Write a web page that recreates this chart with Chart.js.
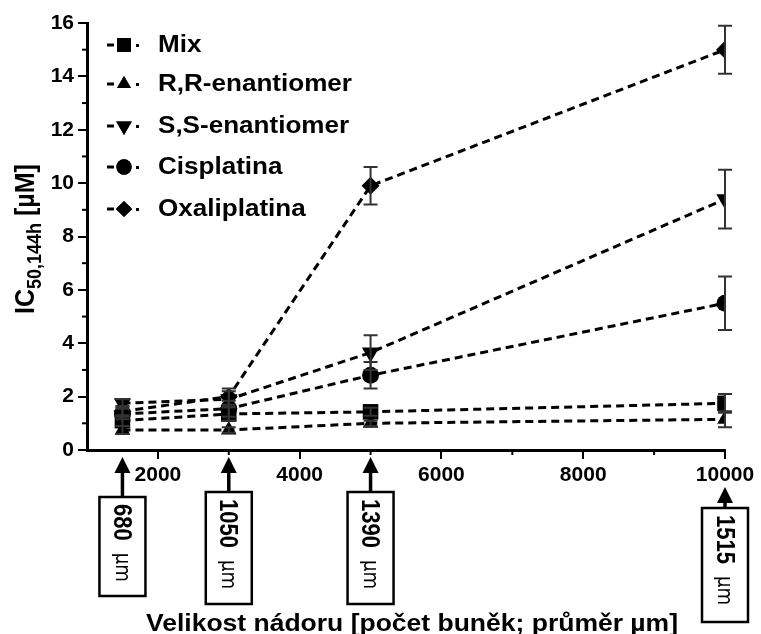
<!DOCTYPE html>
<html>
<head>
<meta charset="utf-8">
<script src="https://cdn.jsdelivr.net/npm/chart.js@4.4.0/dist/chart.umd.min.js"></script>
<style>
  html, body { margin: 0; padding: 0; background: #fff; }
</style>
</head>
<body>
<canvas id="myChart" width="761" height="634"></canvas>
<script>
// tumour size (cells) and matching diameters
const sizes = [1500, 3000, 5000, 10000]
const diameters = ['680', '1050', '1390', '1515']

// IC50 values [uM] with error (+/-)
const mix = [1.1, 1.35, 1.43, 1.75]
const mixErr = [0.2, 0.25, 0.15, 0.35]
const rr = [0.75, 0.75, 1.0, 1.15]
const rrErr = [0.15, 0.1, 0.1, 0.3]
const ss = [1.75, 1.9, 3.65, 9.4]
const ssErr = [0.15, 0.3, 0.65, 1.1]
const cis = [1.35, 1.55, 2.8, 5.5]
const cisErr = [0.2, 0.3, 0.5, 1.0]
const oxa = [1.45, 2.0, 9.9, 15.0]
const oxaErr = [0.2, 0.3, 0.7, 0.9]

const xTicks = [2000, 4000, 6000, 8000, 10000]
const yTicks = [0, 2, 4, 6, 8, 10, 12, 14, 16]

function series (label, values, errors, pointStyle, radius, rotation) {
  return {
    label,
    data: sizes.map((x, i) => ({ x, y: values[i] })),
    errors,
    pointStyle,
    pointRadius: radius,
    pointHoverRadius: radius,
    pointRotation: rotation || 0,
    borderColor: '#000',
    backgroundColor: '#000',
    pointBorderWidth: 0,
    borderWidth: 3,
    borderDash: [8, 5],
    fill: false,
    tension: 0,
  }
}

const datasets = [
  series('Mix', mix, mixErr, 'rect', 11),
  series('R,R-enantiomer', rr, rrErr, 'triangle', 9),
  series('S,S-enantiomer', ss, ssErr, 'triangle', 10, 180),
  series('Cisplatina', cis, cisErr, 'circle', 8.5),
  series('Oxaliplatina', oxa, oxaErr, 'rectRot', 9),
]

// error bars, drawn from the y scale
const errorBars = {
  id: 'errorBars',
  afterDatasetsDraw (chart) {
    const { ctx, scales: { x, y } } = chart
    ctx.save()
    ctx.strokeStyle = '#333'
    ctx.lineWidth = 2
    chart.data.datasets.forEach(ds => {
      ds.data.forEach((p, i) => {
        const e = ds.errors[i]
        const px = x.getPixelForValue(p.x)
        const top = y.getPixelForValue(p.y + e)
        const bot = y.getPixelForValue(p.y - e)
        ctx.beginPath()
        ctx.moveTo(px, top); ctx.lineTo(px, bot)
        ctx.moveTo(px - 7, top); ctx.lineTo(px + 7, top)
        ctx.moveTo(px - 7, bot); ctx.lineTo(px + 7, bot)
        ctx.stroke()
      })
    })
    ctx.restore()
  },
}

// minor ticks (odd values) drawn shorter
const minorTicks = {
  id: 'minorTicks',
  afterDraw (chart) {
    const { ctx, scales: { x, y }, chartArea } = chart
    ctx.save()
    ctx.strokeStyle = '#000'
    ctx.lineWidth = 2
    for (let v = 3000; v < 10000; v += 2000) {
      const px = x.getPixelForValue(v)
      ctx.beginPath(); ctx.moveTo(px, chartArea.bottom); ctx.lineTo(px, chartArea.bottom + 5); ctx.stroke()
    }
    for (let v = 1; v < 16; v += 2) {
      const py = y.getPixelForValue(v)
      ctx.beginPath(); ctx.moveTo(chartArea.left, py); ctx.lineTo(chartArea.left - 5, py); ctx.stroke()
    }
    ctx.restore()
  },
}

function stretchText (ctx, text, x, y, sx, sy) {
  ctx.save()
  ctx.translate(x, y)
  ctx.scale(sx, sy || 1)
  ctx.fillText(text, 0, 0)
  ctx.restore()
}

// legend inside the plot: "-<symbol>·  label"
const legendBox = {
  id: 'legendBox',
  afterDraw (chart) {
    const { ctx } = chart
    const rows = [45, 84, 126, 167, 209]
    ctx.save()
    ctx.fillStyle = '#000'
    ctx.font = 'bold 23px "Liberation Sans", Arial, sans-serif'
    ctx.textBaseline = 'middle'
    ctx.textAlign = 'left'
    const sx = 194 / ctx.measureText('R,R-enantiomer').width
    chart.data.datasets.forEach((ds, i) => {
      const cy = rows[i]
      ctx.fillRect(107, cy - 1.5, 7, 3)
      ctx.fillRect(136, cy - 1, 3, 3)
      ctx.beginPath()
      Chart.helpers.drawPoint(ctx, {
        pointStyle: ds.pointStyle,
        rotation: ds.pointRotation,
        radius: ds.pointRadius * 0.9,
        borderWidth: 0,
      }, 124, cy)
      ctx.fill()
      stretchText(ctx, ds.label, 158, cy + 1, sx)
    })
    ctx.restore()
  },
}

// arrows and boxes with diameters under the x axis
const diameterBoxes = {
  id: 'diameterBoxes',
  afterDraw (chart) {
    const { ctx, scales: { x } } = chart
    ctx.save()
    ctx.fillStyle = '#000'
    ctx.strokeStyle = '#000'
    sizes.forEach((s, i) => {
      const cx = x.getPixelForValue(s)
      const last = i === sizes.length - 1
      const tip = last ? 487 : 457
      const boxTop = last ? 508 : (i === 0 ? 497 : 492)
      const boxH = last ? 114 : (i === 0 ? 99 : 112)
      // arrow
      ctx.beginPath()
      ctx.moveTo(cx, tip)
      ctx.lineTo(cx - 8, tip + 16)
      ctx.lineTo(cx + 8, tip + 16)
      ctx.closePath()
      ctx.fill()
      ctx.lineWidth = 3.5
      ctx.beginPath(); ctx.moveTo(cx, tip + 14); ctx.lineTo(cx, boxTop); ctx.stroke()
      // box
      ctx.lineWidth = 2.5
      ctx.strokeRect(cx - 23, boxTop, 46, boxH)
      // rotated text, glyphs a bit wider across the box
      ctx.save()
      ctx.translate(cx, boxTop + 7)
      ctx.rotate(Math.PI / 2)
      ctx.scale(1, 1.18)
      ctx.textBaseline = 'middle'
      ctx.textAlign = 'left'
      ctx.font = 'bold 22px "Liberation Sans", Arial, sans-serif'
      ctx.fillText(diameters[i], 0, 1)
      const w = ctx.measureText(diameters[i]).width
      ctx.font = '18px "DejaVu Sans", Arial, sans-serif'
      ctx.fillText('\u00b5m', w + 12, 1)
      ctx.restore()
    })
    ctx.restore()
  },
}

// axis titles (with subscript on the y title)
const axisTitles = {
  id: 'axisTitles',
  afterDraw (chart) {
    const { ctx } = chart
    ctx.save()
    ctx.fillStyle = '#000'
    ctx.textBaseline = 'alphabetic'
    ctx.textAlign = 'left'
    ctx.font = 'bold 23px "Liberation Sans", Arial, sans-serif'
    const xt = 'Velikost n\u00e1doru [po\u010det bun\u011bk; pr\u016fm\u011br \u00b5m]'
    stretchText(ctx, xt, 146, 631, 532 / ctx.measureText(xt).width)

    ctx.translate(34, 314)
    ctx.rotate(-Math.PI / 2)
    ctx.scale(1, 1.1)
    ctx.font = 'bold 25px "Liberation Sans", Arial, sans-serif'
    ctx.fillText('IC', 0, 0)
    let off = ctx.measureText('IC').width
    ctx.font = 'bold 18px "Liberation Sans", Arial, sans-serif'
    ctx.fillText('50,144h', off, 6)
    off += ctx.measureText('50,144h').width + 7
    ctx.font = 'bold 25px "Liberation Sans", Arial, sans-serif'
    ctx.fillText('[\u00b5M]', off, 0)
    ctx.restore()
  },
}

new Chart(document.getElementById('myChart'), {
  type: 'line',
  data: { datasets },
  options: {
    responsive: false,
    animation: false,
    events: [],
    layout: { padding: { left: 0, top: 23, right: 36, bottom: 0 } },
    plugins: { legend: { display: false }, tooltip: { enabled: false } },
    scales: {
      x: {
        type: 'linear',
        min: 1000,
        max: 10000,
        afterBuildTicks: s => { s.ticks = xTicks.map(value => ({ value })) },
        afterFit: s => { s.height = 184 },
        ticks: { color: '#000', font: { family: '"Liberation Sans", Arial', weight: 'bold', size: 21 }, padding: 4, maxRotation: 0, autoSkip: false, callback: v => String(v) },
        grid: { drawOnChartArea: false, color: '#000', lineWidth: 2, tickLength: 9 },
        border: { color: '#000', width: 3 },
      },
      y: {
        min: 0,
        max: 16,
        afterBuildTicks: s => { s.ticks = yTicks.map(value => ({ value })) },
        afterFit: s => { s.width = 87 },
        ticks: { color: '#000', font: { family: '"Liberation Sans", Arial', weight: 'bold', size: 21 }, padding: 4, callback: v => String(v) },
        grid: { drawOnChartArea: false, color: '#000', lineWidth: 2, tickLength: 9 },
        border: { color: '#000', width: 3 },
      },
    },
  },
  plugins: [errorBars, minorTicks, legendBox, diameterBoxes, axisTitles],
})
</script>
</body>
</html>
